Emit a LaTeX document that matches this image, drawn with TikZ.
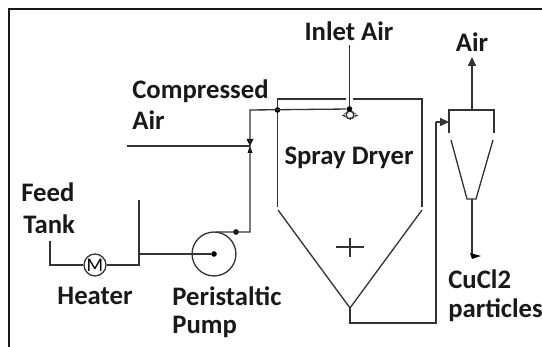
\documentclass[tikz,border=0pt]{standalone}
\usepackage{fontspec}
\setmainfont{Carlito}
\usetikzlibrary{arrows.meta}
\tikzset{
  pipe/.style={draw=black!80,line width=0.75pt},
  tag/.style={font=\bfseries\fontsize{15.2}{15.2}\selectfont,text=black!90,inner sep=0pt},
  tagleft/.style={tag,anchor=west},
  joint/.style={circle,fill=black,inner sep=0pt,minimum size=3.2pt},
  flow/.style={pipe,-{Triangle[length=5pt,width=4.5pt]}}
}
\begin{document}
\begin{tikzpicture}[x=0.02cm,y=-0.02cm]
\useasboundingbox (0,0) rectangle (542,347);
\fill[white] (0,0) rectangle (542,347);
\draw[line width=1.1pt,black!90] (9,347) -- (9,9) -- (542,9);

% labels
\node[tag] (inletlabel) at (349,31) {Inlet Air};
\node[tag] (airlabel) at (472,42) {Air};
\node[tagleft] (comprlabel) at (132,91) {Compressed};
\node[tagleft] (comprlabelb) at (132,120) {Air};
\node[tag] (dryerlabel) at (349,158) {Spray Dryer};
\node[tagleft] (feedlabel) at (21,192) {Feed};
\node[tagleft] (tanklabel) at (23,224) {Tank};
\node[tag] (heaterlabel) at (95,296) {Heater};
\node[tagleft] (perilabel) at (172,296) {Peristaltic};
\node[tagleft] (pumplabel) at (172,327) {Pump};
\node[tagleft] (cuclabel) at (448,279) {CuCl2};
\node[tagleft] (partlabel) at (448,310) {particles};

% spray dryer vessel
\draw[pipe] (346,99) -- (277.5,99) -- (277.5,207);
\draw[pipe] (353,99) -- (422,99) -- (422,207);
\draw[pipe] (278,210) -- (350,308) -- (422,210);
\draw[pipe] (336,247) -- (364,247);
\draw[pipe] (350,238) -- (350,257);

% cyclone
\draw[pipe] (449,133) -- (449,110) -- (494,110) -- (494,133);
\draw[pipe] (451,140) -- (467,199) -- (476,199) -- (493,140);

% equipment
\node[circle,draw=black!80,line width=0.75pt,minimum size=25pt,inner sep=0pt] (pump) at (214,254) {};
\node[circle,draw=black!80,line width=0.75pt,minimum size=12.5pt,inner sep=0pt,font=\fontsize{11}{11}\selectfont] (heater) at (95,265) {M};
\node[circle,draw=black!80,line width=0.75pt,minimum size=4.4pt,inner sep=0pt] (nozzle) at (350,115) {};
\foreach \ang in {120,150,180,210,240,270,300,330,0,30,60}
  \draw[black!80,line width=0.35pt] (nozzle.\ang) -- ++(\ang:3);
\node[joint] (nozzletop) at (349.5,109) {};
\node[joint] (pumpdot) at (214,254) {};
\node[joint] (pumpout) at (236,232) {};
\node[joint] (wallcross) at (277.5,110) {};

% valve
\coordinate (valve) at (250,146);
\fill (246.5,139) -- (253.5,139) -- (250,146) -- cycle;
\fill (247.5,153) -- (252.5,153) -- (250,146) -- cycle;

% connection points
\coordinate (feedin) at (50,241);
\coordinate (feedcorner) at (50,265);
\coordinate (branchtop) at (139,200);
\coordinate (branchlow) at (139,265);
\coordinate (branchmid) at (139,254);
\coordinate (linecorner) at (250,232);
\coordinate (pumptop) at (216,232);
\coordinate (linetop) at (250,110);
\coordinate (compin) at (127,146);
\coordinate (inletin) at (349.5,45);
\coordinate (apex) at (350,308);
\coordinate (apexlow) at (350,323);
\coordinate (feedlow) at (436,323);
\coordinate (feedhigh) at (436,122);
\coordinate (cyclonein) at (449,122);
\coordinate (cyclonetop) at (472,110);
\coordinate (airout) at (472,57);
\coordinate (cyclonelow) at (472,199);
\coordinate (partout) at (472,257);

% pipes
\draw[pipe] (feedin) -- (feedcorner) -- (heater);
\draw[pipe] (heater) -- (branchlow) -- (branchtop);
\draw[pipe,line width=0.9pt] (branchmid) -- (pumpdot);
\draw[pipe] (pumptop) -- (linecorner) -- (linetop) -- (nozzletop);
\draw[pipe] (compin) -- (valve);
\draw[pipe] (inletin) -- (nozzletop);
\draw[pipe] (apex) -- (apexlow) -- (feedlow) -- (feedhigh);
\draw[flow] (feedhigh) -- (cyclonein);
\draw[flow] (cyclonetop) -- (airout);
\draw[pipe] (cyclonelow) -- (partout);
\fill (470,253) -- (481,256) -- (472,259) -- cycle;
\end{tikzpicture}
\end{document}
